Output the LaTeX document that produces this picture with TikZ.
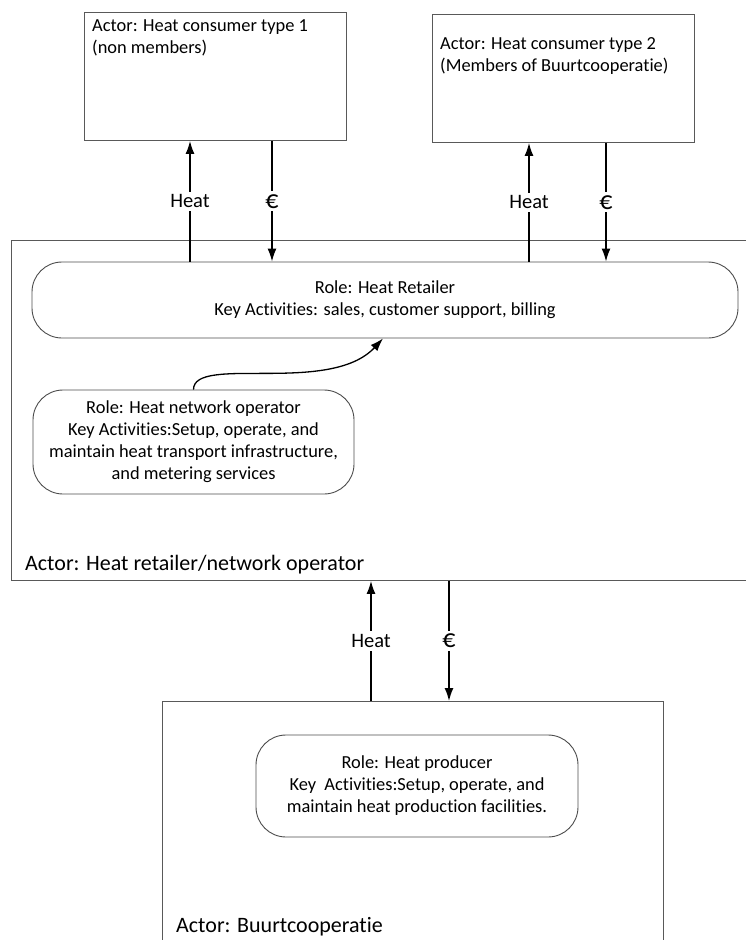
\documentclass[tikz,border=0pt]{standalone}
\usepackage{fontspec}
\setmainfont[Ligatures={NoCommon,NoContextual}]{Carlito}
\usetikzlibrary{arrows.meta}

\begin{document}
\begin{tikzpicture}[x=1pt,y=-1pt,
	actor/.style={draw=black!65,line width=0.9pt,anchor=north west,inner sep=0pt},
	role/.style={draw=black!70,line width=0.9pt,rounded corners=30pt,align=center,font=\fontsize{18.4}{22}\selectfont},
	txt/.style={align=left,inner sep=0pt,anchor=north west,font=\fontsize{18.4}{22}\selectfont},
	big/.style={inner sep=0pt,anchor=west,font=\fontsize{22}{26}\selectfont},
	flow/.style={line width=1.5pt,-{Latex[length=13pt,width=9pt]}},
	lbl/.style={fill=white,inner sep=3pt,font=\fontsize{20.5}{24}\selectfont},
	eur/.style={lbl,font=\fontsize{26}{28}\selectfont}]
	\useasboundingbox (0,0) rectangle (745,940);

	% actors
	\node[actor,minimum width=262,minimum height=128] (cons1) at (84,12) {};
	\node[actor,minimum width=262,minimum height=128] (cons2) at (432,14) {};
	\node[actor,minimum width=749,minimum height=340] (retact) at (11,240) {};
	\node[actor,minimum width=501,minimum height=260] (buurt) at (162,701) {};

	\node[txt] (cons1txt) at (92,19) {Actor: Heat consumer type 1\\(non members)};
	\node[txt] (cons2txt) at (440,37) {Actor: Heat consumer type 2\\(Members of Buurtcooperatie)};
	\node[big] (retacttxt) at (25,565) {Actor: Heat retailer/network operator};
	\node[big] (buurttxt) at (176,927) {Actor: Buurtcooperatie};

	% roles
	\node[role,minimum width=706,minimum height=76] (ret) at (385,300)
		{Role: Heat Retailer\\Key Activities: sales, customer support, billing};
	\node[role,minimum width=321,minimum height=104] (netop) at (193.5,442)
		{Role: Heat network operator\\Key Activities:Setup, operate, and\\maintain heat transport infrastructure,\\and metering services};
	\node[role,minimum width=322,minimum height=102] (prod) at (417,786)
		{Role: Heat producer\\Key\ \ Activities:Setup, operate, and\\maintain heat production facilities.};

	% flows
	\coordinate (h1) at (190,0);
	\coordinate (e1) at (272,0);
	\coordinate (h2) at (529,0);
	\coordinate (e2) at (606,0);
	\coordinate (h3) at (371,0);
	\coordinate (e3) at (449,0);
	\coordinate (tip) at (383,0);

	\draw[flow] (ret.north -| h1) -- node[lbl] (heat1) {Heat} (cons1.south -| h1);
	\draw[flow] (cons1.south -| e1) -- node[eur] (eur1) {€} (ret.north -| e1);
	\draw[flow] (ret.north -| h2) -- node[lbl] (heat2) {Heat} (cons2.south -| h2);
	\draw[flow] (cons2.south -| e2) -- node[eur] (eur2) {€} (ret.north -| e2);
	\draw[flow] (buurt.north -| h3) -- node[lbl] (heat3) {Heat} (retact.south -| h3);
	\draw[flow] (retact.south -| e3) -- node[eur] (eur3) {€} (buurt.north -| e3);

	\draw[flow,line width=1.3pt] (netop.north) .. controls +(0,-35) and +(-53,57) .. (ret.south -| tip);
\end{tikzpicture}
\end{document}
